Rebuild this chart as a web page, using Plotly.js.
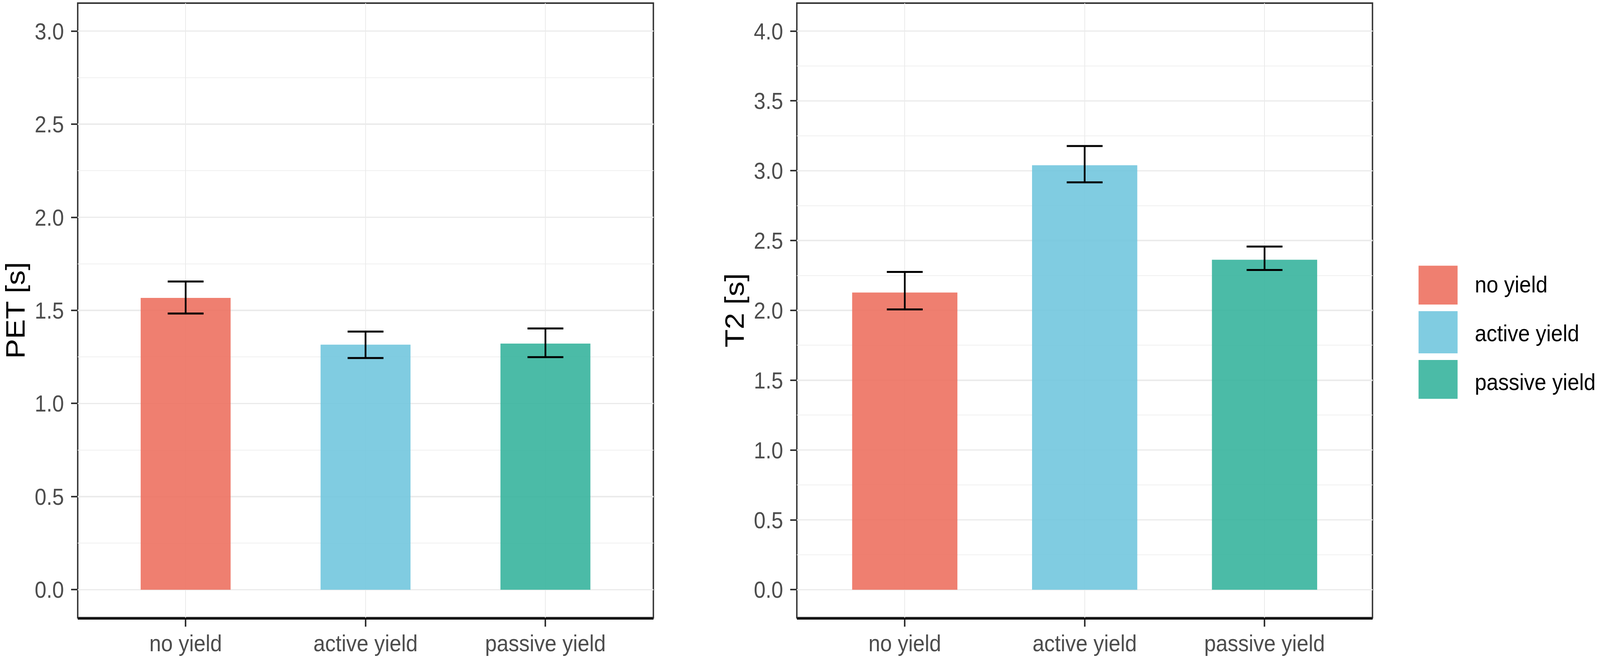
<!DOCTYPE html>
<html>
<head>
<meta charset="utf-8">
<script src="https://cdn.plot.ly/plotly-3.0.1.min.js"></script>
<style>
  html, body { margin: 0; padding: 0; background: #fff; overflow: hidden; }
  #wrap { width: 100vw; height: 1693px; overflow: hidden; }
  #chart { width: 4550px; height: 1693px; transform-origin: 0 0; }
</style>
</head>
<body>
<div id="wrap"><div id="chart"></div></div>
<script>
// categories and summary values
const categories = ['no yield', 'active yield', 'passive yield'];
const barColors = ['rgba(237,113,96,0.9)', 'rgba(114,198,222,0.9)', 'rgba(55,180,157,0.9)'];

// left panel: PET [s]
const petMean = [1.567, 1.316, 1.322];
const petLow  = [1.483, 1.244, 1.249];
const petHigh = [1.655, 1.386, 1.403];

// right panel: T2 [s]
const t2Mean = [2.128, 3.039, 2.363];
const t2Low  = [2.007, 2.917, 2.289];
const t2High = [2.275, 3.177, 2.457];

const W = 4550, H = 1693;
const FONT = '"Liberation Sans", Arial, sans-serif';

// the browser may be narrower than the figure, squeeze it to fit
const fit = Math.min(1, window.innerWidth / W);
document.getElementById('chart').style.transform = 'scaleX(' + fit + ')';

function px(x) { return x / W; }
function py(y) { return 1 - y / H; }

function barTrace(i, mean, low, high, xa, ya, width, legend) {
  return {
    type: 'bar',
    x: [categories[i]],
    y: [mean[i]],
    width: width,
    name: categories[i],
    legendgroup: categories[i],
    showlegend: legend,
    xaxis: xa,
    yaxis: ya,
    marker: { color: barColors[i], line: { width: 0 } },
    error_y: {
      type: 'data',
      symmetric: false,
      array: [high[i] - mean[i]],
      arrayminus: [mean[i] - low[i]],
      color: '#000',
      thickness: 5,
      width: 51
    },
    hoverinfo: 'skip'
  };
}

let traces = [];
for (let i = 0; i < categories.length; i++) {
  traces.push(barTrace(i, petMean, petLow, petHigh, 'x', 'y', 0.5, true));
}
for (let i = 0; i < categories.length; i++) {
  traces.push(barTrace(i, t2Mean, t2Low, t2High, 'x2', 'y2', 0.585, false));
}

const plotTop = 8, plotBottom = 1582;
const yDomain = [py(plotBottom), py(plotTop)];

function xAxis(domain, anchor) {
  return {
    domain: domain,
    anchor: anchor,
    type: 'category',
    categoryorder: 'array',
    categoryarray: categories,
    range: [-0.6, 2.6],
    showgrid: true,
    gridcolor: '#EBEBEB',
    gridwidth: 2.5,
    zeroline: false,
    showline: true,
    linecolor: '#111',
    linewidth: 5,
    ticks: 'outside',
    ticklen: 18,
    tickwidth: 4,
    tickcolor: '#333',
    ticklabelstandoff: -9,
    tickfont: { family: FONT, size: 60, color: '#4D4D4D' },
    fixedrange: true
  };
}

function yAxis(anchor, range, maxv, title) {
  let vals = [];
  for (let v = 0; v <= maxv + 1e-9; v += 0.5) vals.push(v);
  return {
    domain: yDomain,
    anchor: anchor,
    range: range,
    tickvals: vals,
    ticktext: vals.map(v => v.toFixed(1)),
    showgrid: true,
    gridcolor: '#EBEBEB',
    gridwidth: 3.5,
    minor: { dtick: 0.25, tick0: 0, showgrid: true, gridcolor: '#F0F0F0', gridwidth: 2, ticks: '' },
    zeroline: false,
    showline: false,
    ticks: 'outside',
    ticklen: 18,
    tickwidth: 4,
    tickcolor: '#333',
    ticklabelstandoff: 8,
    tickfont: { family: FONT, size: 60, color: '#4D4D4D' },
    title: { text: title, standoff: 2, font: { family: FONT, size: 76, color: '#000' } },
    fixedrange: true
  };
}

function panelBorder(xr, yr) {
  return {
    type: 'rect', xref: xr + ' domain', yref: yr + ' domain',
    x0: 0, x1: 1, y0: 0, y1: 1,
    line: { color: '#333', width: 4 },
    fillcolor: 'rgba(0,0,0,0)',
    layer: 'below'
  };
}

const layout = {
  width: W,
  height: H,
  margin: { l: 0, r: 0, t: 0, b: 0 },
  paper_bgcolor: '#fff',
  plot_bgcolor: '#fff',
  barmode: 'overlay',
  font: { family: FONT, color: '#000' },
  xaxis: xAxis([px(221), px(1858)], 'y'),
  yaxis: yAxis('x', [-0.15, 3.15], 3.0, 'PET [s]'),
  xaxis2: xAxis([px(2266), px(3903)], 'y2'),
  yaxis2: yAxis('x2', [-0.2, 4.2], 4.0, 'T2 [s]'),
  shapes: [panelBorder('x', 'y'), panelBorder('x2', 'y2')],
  showlegend: true,
  legend: {
    x: px(3985),
    xanchor: 'left',
    y: py(851),
    yanchor: 'middle',
    font: { family: FONT, size: 60, color: '#000' },
    itemwidth: 199,
    tracegroupgap: 44,
    bgcolor: 'rgba(0,0,0,0)',
    borderwidth: 0
  }
};

Plotly.newPlot('chart', traces, layout, { staticPlot: true }).then(function (gd) {
  // ggplot-style legend keys are big filled squares
  gd.querySelectorAll('.legend .legendpoints path').forEach(function (p) {
    const t = p.getAttribute('transform') || '';
    p.setAttribute('transform', t + ' scale(9.25,9)');
  });
});
</script>
</body>
</html>
